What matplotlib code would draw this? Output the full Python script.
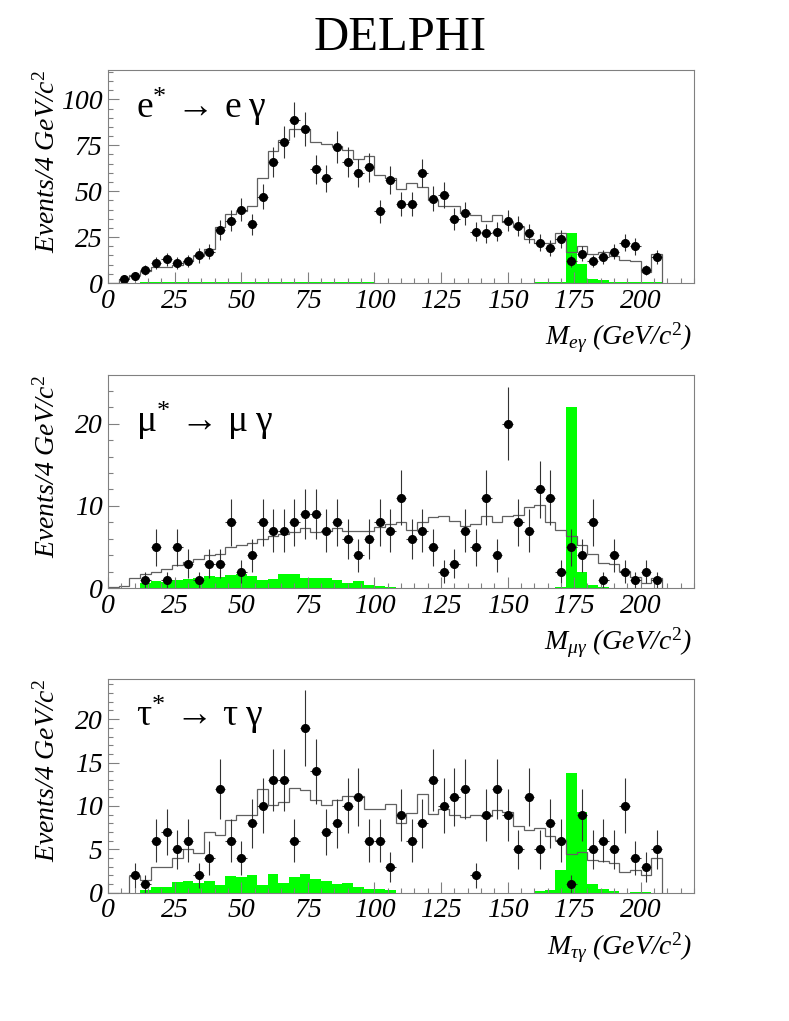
import numpy as np
import matplotlib
matplotlib.use('Agg')
import matplotlib.pyplot as plt
from matplotlib.ticker import MultipleLocator

plt.rcParams['font.family'] = ['Liberation Serif', 'DejaVu Serif']
plt.rcParams['mathtext.fontset'] = 'custom'
plt.rcParams['mathtext.rm'] = 'Liberation Serif'
plt.rcParams['mathtext.it'] = 'Liberation Serif:italic'

# 4 GeV bins from 0 to 208
edges = np.arange(0, 212, 4)
centers = edges[:-1] + 2

# ---- e* -> e gamma ----
e_mc = [0, 2.4, 4.5, 6.5, 8.5, 8.5, 10, 12, 14.5, 18.5, 30.5, 37.5, 39, 42, 57, 72, 78, 84, 84, 77,
        75.5, 74.5, 72.5, 67.5, 69, 59, 57, 51, 54.5, 52.5, 45, 42, 42, 38, 37, 34, 37, 33, 30.5, 24,
        22, 22, 27, 17, 20, 16, 17, 14.5, 12.5, 12, 6, 16]
e_sig = [0, 0, 0, 0.3, 0.3, 0.3, 0.3, 0.3, 0.5, 0.8, 0.8, 0.5, 0.8, 0.8, 0.3, 0.7, 0.7, 0.5, 0.5, 0.5,
         0.5, 0.5, 0.5, 0.3, 0.3, 0.2, 0, 0, 0, 0, 0, 0, 0, 0, 0, 0, 0, 0, 0, 0,
         0.3, 0.3, 0.8, 27.5, 10.4, 2.2, 1.5, 0.8, 0.6, 0.4, 0.3, 0.3]
e_data = [0, 2, 4, 7, 11, 13, 11, 12, 15, 17, 29, 34, 40, 32, 47, 66, 77, 89, 84, 62,
          57, 74, 66, 60, 63, 39, 56, 43, 43, 60, 46, 48, 35, 38, 28, 27, 28, 34, 31, 27,
          22, 19, 24, 12, 16, 12, 14, 17, 22, 20, 7, 14]

# ---- mu* -> mu gamma ----
mu_mc = [0.1, 0.3, 1.2, 1.7, 2.0, 2.4, 2.8, 3.2, 3.6, 4.0, 4.2, 5.0, 5.3, 5.5, 6.0, 6.3, 6.6, 6.8, 7.3, 6.8,
         7.0, 7.3, 7.0, 6.9, 7.0, 7.4, 7.8, 8.0, 7.1, 8.0, 8.6, 8.8, 8.2, 7.6, 7.8, 8.8, 8.0, 8.8, 8.9, 9.9,
         10.1, 8.0, 7.1, 6.4, 5.3, 4.2, 3.1, 3.0, 2.1, 1.4, 0.7, 1.2]
mu_sig = [0, 0, 0, 0.6, 0.9, 0.8, 1.0, 1.1, 1.2, 1.5, 1.4, 1.6, 1.7, 1.5, 1.0, 1.1, 1.7, 1.7, 1.2, 1.2,
          1.2, 1.0, 0.7, 0.9, 0.4, 0.3, 0.2, 0, 0, 0, 0, 0, 0, 0, 0, 0, 0, 0, 0, 0,
          0, 0, 0.1, 22, 2.0, 0.4, 0.1, 0, 0, 0, 0, 0]
mu_data = [0, 0, 0, 1, 5, 1, 5, 3, 1, 3, 3, 8, 2, 4, 8, 7, 7, 8, 9, 9,
           7, 8, 6, 4, 6, 8, 7, 11, 6, 7, 5, 2, 3, 7, 5, 11, 4, 20, 8, 7,
           12, 11, 2, 5, 4, 8, 1, 4, 2, 1, 2, 1]

# ---- tau* -> tau gamma ----
tau_mc = [0, 0, 1.9, 1.5, 3.0, 3.0, 4.0, 5.0, 4.6, 7.0, 6.6, 8.4, 9.0, 9.0, 12.0, 10.1, 10.5, 12.1, 11.8, 10.7,
          10.1, 10.7, 11.1, 11.1, 9.6, 9.6, 10.2, 8.0, 9.2, 11.4, 9.1, 9.7, 8.9, 8.7, 8.9, 8.8, 9.5, 9.3, 7.7, 7.2,
          7.4, 6.5, 6.1, 4.5, 4.7, 3.8, 3.6, 3.4, 2.4, 2.6, 2.0, 4.0]
tau_sig = [0, 0, 0, 0.3, 0.6, 0.6, 1.2, 1.4, 1.1, 1.4, 0.9, 1.9, 1.8, 2.0, 0.9, 2.1, 1.1, 1.8, 2.1, 1.6,
           1.3, 1.0, 1.1, 0.6, 0.4, 0.4, 0.3, 0, 0, 0, 0, 0, 0, 0, 0, 0, 0, 0, 0, 0,
           0.2, 0.3, 2.6, 13.8, 9.3, 1.0, 0.4, 0.2, 0, 0.1, 0.1, 0]
tau_data = [0, 0, 2, 1, 6, 7, 5, 6, 2, 4, 12, 6, 4, 8, 10, 13, 13, 6, 19, 14,
            7, 8, 10, 11, 6, 6, 3, 9, 6, 8, 13, 10, 11, 12, 2, 9, 12, 9, 5, 11,
            5, 8, 6, 1, 9, 5, 6, 5, 10, 4, 3, 5]

panels = [
    (e_mc, e_sig, e_data, 116, 25, 5, r'$\mathrm{e}^{*}\,\rightarrow\,\mathrm{e}\;\mathrm{\gamma}$',
     r'$M_{e\gamma}$ (GeV/c$^{2}$)', [0.1369, 0.7228, 0.7427, 0.2086], 0.773),
    (mu_mc, mu_sig, mu_data, 25.9, 10, 2, r'$\mathrm{\mu}^{*}\,\rightarrow\,\mathrm{\mu}\;\mathrm{\gamma}$',
     r'$M_{\mu\gamma}$ (GeV/c$^{2}$)', [0.1369, 0.4238, 0.7427, 0.2089], 0.735),
    (tau_mc, tau_sig, tau_data, 24.6, 5, 1, r'$\mathrm{\tau}^{*}\,\rightarrow\,\mathrm{\tau}\;\mathrm{\gamma}$',
     r'$M_{\tau\gamma}$ (GeV/c$^{2}$)', [0.1369, 0.1257, 0.7427, 0.2090], 0.779),
]

fig = plt.figure(figsize=(7.89, 10.21), dpi=100)
fig.text(0.507, 0.963, 'DELPHI', ha='center', va='center', fontsize=35)

frame = '#808080'
for mc, sig, data, ymax, major, minor, label, xlab, pos, ly in panels:
    ax = fig.add_axes(pos)
    ax.bar(centers, sig, width=4, color='#00ff00', linewidth=0)
    ax.stairs(mc, edges, color='#606060', linewidth=0.9)
    d = np.array(data, dtype=float)
    m = d > 0
    ax.errorbar(centers[m], d[m], yerr=np.sqrt(d[m]), xerr=2, fmt='o', color='black',
                ecolor='#333333', ms=5.5, elinewidth=0.8, capsize=0)

    ax.set_xlim(0, 220)
    ax.set_ylim(0, ymax)
    ax.xaxis.set_major_locator(MultipleLocator(25))
    ax.xaxis.set_minor_locator(MultipleLocator(5))
    ax.yaxis.set_major_locator(MultipleLocator(major))
    ax.yaxis.set_minor_locator(MultipleLocator(minor))
    ax.tick_params(which='both', direction='in', top=False, right=False, color=frame)
    ax.tick_params(which='major', length=8, width=0.8, labelsize=20, pad=4)
    ax.tick_params(which='minor', length=3.5, width=0.8)
    for t in ax.get_xticklabels() + ax.get_yticklabels():
        t.set_fontstyle('italic')
    for s in ax.spines.values():
        s.set_color(frame)
        s.set_linewidth(0.8)

    ax.text(0.048, ly, label, transform=ax.transAxes, fontsize=27, ha='left', va='baseline')
    ax.text(-0.104, 1.0, r'Events/4 GeV/c$^{2}$', transform=ax.transAxes, rotation=90,
            ha='center', va='top', fontsize=20, fontstyle='italic')
    ax.text(0.997, -0.29, xlab, transform=ax.transAxes, ha='right', va='baseline',
            fontsize=20, fontstyle='italic')

fig.savefig('out.png', dpi=100)
